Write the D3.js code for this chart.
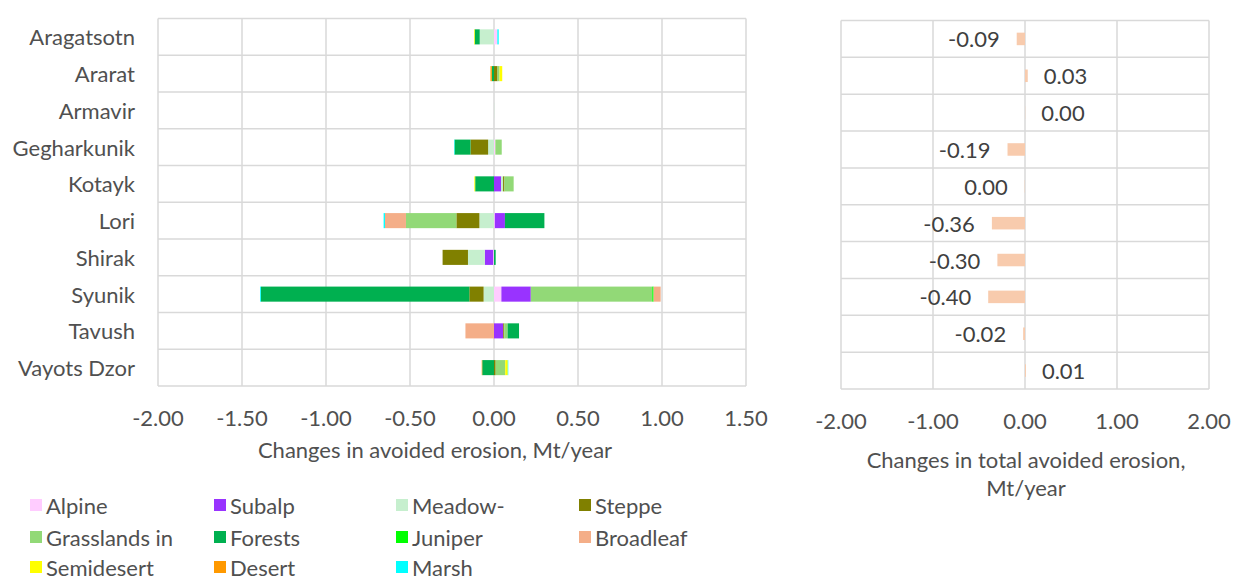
<!DOCTYPE html>
<html>
<head>
<meta charset="utf-8">
<script src="https://cdn.jsdelivr.net/npm/d3@7"></script>
<style>
  body { margin: 0; background: #fff; }
  text { font-family: Lato, "Open Sans", sans-serif; fill: #505050; }
</style>
</head>
<body>
<div class="chart"></div>
<script>
// regions (rows, top to bottom)
var regions = ["Aragatsotn", "Ararat", "Armavir", "Gegharkunik", "Kotayk", "Lori", "Shirak", "Syunik", "Tavush", "Vayots Dzor"];

// changes in avoided erosion per habitat, Mt/year (one value per region)
var alpine     = [0.02, 0, 0, 0.008, 0, 0.005, -0.005, 0.044, 0, 0];
var subalp     = [0, 0, 0, 0, 0.042, 0.06, -0.05, 0.175, 0.055, 0];
var meadow     = [-0.085, 0, 0.001, -0.035, 0.012, -0.087, -0.10, -0.062, 0, 0];
var steppe     = [0, 0.021, 0, -0.105, 0.008, -0.137, -0.151, -0.085, 0.006, 0.01];
var grasslands = [0, 0.012, 0, 0.038, 0.055, -0.30, 0, 0.723, 0.02, 0.057];
var forests    = [-0.03, -0.013, 0, -0.095, -0.112, 0.235, 0.01, -1.24, 0.068, -0.07];
var juniper    = [0, 0, 0, 0, 0, 0, 0, 0.008, 0, 0];
var broadleaf  = [0, 0, 0, 0, 0, -0.125, 0, 0.042, -0.17, 0];
var semidesert = [-0.004, 0.016, 0, 0, -0.005, 0, 0, 0, 0, 0.015];
var desert     = [0, -0.008, 0, 0, 0, 0, 0, 0, 0, -0.003];
var marsh      = [0.008, 0, 0, -0.003, 0, -0.008, 0, -0.005, 0, 0.003];

// total change per region
var totals = [-0.09, 0.03, 0.002, -0.19, -0.003, -0.36, -0.30, -0.40, -0.02, 0.01];

var seriesNames = ["Alpine", "Subalp", "Meadow-", "Steppe", "Grasslands in", "Forests", "Juniper", "Broadleaf", "Semidesert", "Desert", "Marsh"];
var seriesValues = [alpine, subalp, meadow, steppe, grasslands, forests, juniper, broadleaf, semidesert, desert, marsh];
var seriesColors = ["#FFCCFF", "#9933FF", "#C6EFCE", "#808000", "#92D977", "#00B050", "#00FF00", "#F4AE88", "#FFFF00", "#FF9900", "#00FFFF"];

var leftTicks = [-2, -1.5, -1, -0.5, 0, 0.5, 1, 1.5];
var rightTicks = [-2, -1, 0, 1, 2];

var width = 1233, height = 581;
var grid = "#D9D9D9";
var fs = "22px";

var svg = d3.select(".chart").append("svg")
  .attr("width", width)
  .attr("height", height);

// table for the stack: one row per region
var table = regions.map(function(r, i) {
  var row = { region: r };
  seriesNames.forEach(function(s, j) { row[s] = seriesValues[j][i]; });
  return row;
});

var stacked = d3.stack()
  .keys(seriesNames)
  .offset(d3.stackOffsetDiverging)(table);

/* left chart */
var x = d3.scaleLinear().domain([-2, 1.5]).range([158, 746]);
var y = d3.scaleBand().domain(regions).range([18.5, 386]);
var barH = y.bandwidth() * 0.41;

var left = svg.append("g");

left.append("g").selectAll("line").data(leftTicks).enter().append("line")
  .attr("x1", function(d) { return x(d); })
  .attr("x2", function(d) { return x(d); })
  .attr("y1", y.range()[0])
  .attr("y2", y.range()[1])
  .attr("stroke", grid).attr("stroke-width", 1.5);

left.append("g").selectAll("line").data(d3.range(regions.length + 1)).enter().append("line")
  .attr("x1", x.range()[0])
  .attr("x2", x.range()[1])
  .attr("y1", function(i) { return y.range()[0] + i * y.step(); })
  .attr("y2", function(i) { return y.range()[0] + i * y.step(); })
  .attr("stroke", grid).attr("stroke-width", 1.5);

left.append("g").selectAll("g").data(stacked).enter().append("g")
  .attr("fill", function(d, i) { return seriesColors[i]; })
  .selectAll("rect").data(function(d) { return d; }).enter().append("rect")
  .attr("x", function(d) { return x(Math.min(d[0], d[1])); })
  .attr("width", function(d) { return Math.abs(x(d[1]) - x(d[0])); })
  .attr("y", function(d) { return y(d.data.region) + (y.bandwidth() - barH) / 2; })
  .attr("height", barH);

left.append("g").selectAll("text").data(regions).enter().append("text")
  .attr("x", 135)
  .attr("y", function(d) { return y(d) + y.bandwidth() / 2; })
  .attr("text-anchor", "end")
  .attr("dominant-baseline", "central")
  .style("font-size", fs)
  .text(function(d) { return d; });

left.append("g").selectAll("text").data(leftTicks).enter().append("text")
  .attr("x", function(d) { return x(d); })
  .attr("y", 417)
  .attr("text-anchor", "middle")
  .attr("dominant-baseline", "central")
  .style("font-size", fs)
  .text(function(d) { return d3.format(".2f")(d).replace("\u2212", "-"); });

left.append("text")
  .attr("x", 435).attr("y", 449)
  .attr("text-anchor", "middle")
  .attr("dominant-baseline", "central")
  .style("font-size", fs)
  .text("Changes in avoided erosion, Mt/year");

/* right chart */
var x2 = d3.scaleLinear().domain([-2, 2]).range([841, 1209]);
var y2 = d3.scaleBand().domain(regions).range([20.5, 389]);
var barH2 = y2.bandwidth() * 0.34;

var right = svg.append("g");

right.append("g").selectAll("line").data(rightTicks).enter().append("line")
  .attr("x1", function(d) { return x2(d); })
  .attr("x2", function(d) { return x2(d); })
  .attr("y1", y2.range()[0])
  .attr("y2", y2.range()[1])
  .attr("stroke", grid).attr("stroke-width", 1.5);

right.append("g").selectAll("line").data(d3.range(regions.length + 1)).enter().append("line")
  .attr("x1", x2.range()[0])
  .attr("x2", x2.range()[1])
  .attr("y1", function(i) { return y2.range()[0] + i * y2.step(); })
  .attr("y2", function(i) { return y2.range()[0] + i * y2.step(); })
  .attr("stroke", grid).attr("stroke-width", 1.5);

right.append("g").selectAll("rect").data(totals).enter().append("rect")
  .attr("x", function(d) { return x2(Math.min(0, d)); })
  .attr("width", function(d) { return Math.abs(x2(d) - x2(0)); })
  .attr("y", function(d, i) { return y2(regions[i]) + (y2.bandwidth() - barH2) / 2; })
  .attr("height", barH2)
  .attr("fill", "#F8CBAD");

function fmt(v) {
  var s = Math.abs(v).toFixed(2);
  return (v < 0 && s !== "0.00" ? "-" : "") + s;
}

right.append("g").selectAll("text").data(totals).enter().append("text")
  .attr("x", function(d) { return d < 0 ? x2(d) - 17 : x2(d) + 16; })
  .attr("y", function(d, i) { return y2(regions[i]) + y2.bandwidth() / 2; })
  .attr("text-anchor", function(d) { return d < 0 ? "end" : "start"; })
  .attr("dominant-baseline", "central")
  .style("font-size", fs)
  .style("fill", "#404040")
  .text(fmt);

right.append("g").selectAll("text").data(rightTicks).enter().append("text")
  .attr("x", function(d) { return x2(d); })
  .attr("y", 420)
  .attr("text-anchor", "middle")
  .attr("dominant-baseline", "central")
  .style("font-size", fs)
  .text(function(d) { return d3.format(".2f")(d).replace("\u2212", "-"); });

right.append("text")
  .attr("x", 1026).attr("y", 459)
  .attr("text-anchor", "middle")
  .attr("dominant-baseline", "central")
  .style("font-size", fs)
  .text("Changes in total avoided erosion,");
right.append("text")
  .attr("x", 1026).attr("y", 487)
  .attr("text-anchor", "middle")
  .attr("dominant-baseline", "central")
  .style("font-size", fs)
  .text("Mt/year");

/* legend */
var legX = [30, 214, 396, 579], legY = [505, 537, 567];
var legend = svg.append("g").selectAll("g").data(seriesNames).enter().append("g")
  .attr("transform", function(d, i) {
    return "translate(" + legX[i % 4] + "," + legY[Math.floor(i / 4)] + ")";
  });

legend.append("rect")
  .attr("x", 0).attr("y", -6)
  .attr("width", 12).attr("height", 12)
  .attr("fill", function(d, i) { return seriesColors[i]; });

legend.append("text")
  .attr("x", 16)
  .attr("dominant-baseline", "central")
  .style("font-size", fs)
  .text(function(d) { return d; });
</script>
</body>
</html>
